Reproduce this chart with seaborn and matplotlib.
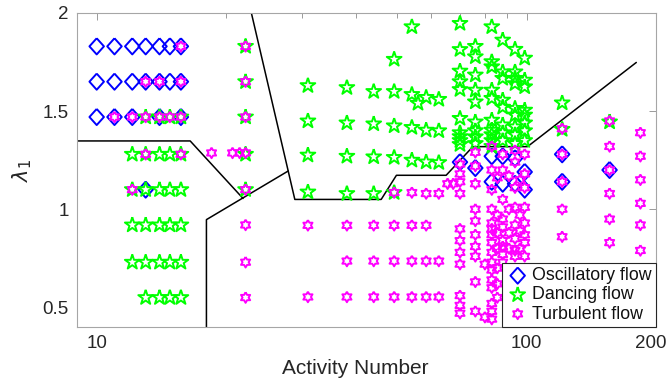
import matplotlib
matplotlib.use("Agg")
import numpy as np
import matplotlib.pyplot as plt
from matplotlib.ticker import FixedLocator, NullFormatter, FixedFormatter
from matplotlib.transforms import ScaledTranslation
import seaborn as sns

# ---------------- data ----------------
# Oscillatory flow (blue diamonds)
osc_x = [10, 11, 12.1, 13, 14, 14.8, 15.7,
         10, 11, 12.1, 13, 14, 14.8, 15.7,
         10, 11, 12.1, 14, 15.7,
         13,
         70, 76, 83, 88, 94, 99,
         83, 88, 94, 99,
         121, 121, 156]
osc_y = [1.83, 1.83, 1.83, 1.83, 1.83, 1.83, 1.83,
         1.65, 1.65, 1.65, 1.65, 1.65, 1.65, 1.65,
         1.47, 1.47, 1.47, 1.47, 1.47,
         1.10,
         1.24, 1.21, 1.27, 1.27, 1.26, 1.19,
         1.14, 1.13, 1.13, 1.10,
         1.28, 1.14, 1.20]

# Dancing flow (green pentagrams)
dance_x = [13, 14, 14.8, 15.7,
           12.1, 13, 14, 14.8, 15.7,
           12.1, 13, 14, 14.8, 15.7,
           12.1, 13, 14, 14.8, 15.7,
           12.1, 13, 14, 14.8, 15.7,
           13, 14, 14.8, 15.7,
           22.2, 22.2, 22.2, 22.2, 22.2,
           31, 38.2, 44.1, 49.2, 54.1, 55.9, 58.4, 62.5,
           31, 38.2, 44.1, 49.2, 54.1, 58.4, 62.5,
           31, 38.2, 44.1, 49.2, 54.1, 58.4, 62.5,
           31, 38.2, 44.1, 49.2,
           54.1, 49.2,
           70, 70, 70, 70, 70, 70, 70, 70, 70, 70,
           76, 76, 76, 76, 76, 76, 76, 76, 76,
           83, 83, 83, 83, 83, 83, 83, 83, 83, 83,
           88, 88, 88, 88, 88, 88, 88, 88,
           94, 94, 94, 94, 94, 94, 94, 94, 94,
           99, 99, 99, 99, 99, 99, 99, 99,
           121, 121, 156]
dance_y = [1.47, 1.47, 1.47, 1.47,
           1.28, 1.28, 1.28, 1.28, 1.28,
           1.10, 1.10, 1.10, 1.10, 1.10,
           0.92, 0.92, 0.92, 0.92, 0.92,
           0.73, 0.73, 0.73, 0.73, 0.73,
           0.55, 0.55, 0.55, 0.55,
           1.83, 1.65, 1.47, 1.28, 1.10,
           1.63, 1.62, 1.60, 1.60, 1.585, 1.54, 1.57, 1.56,
           1.45, 1.44, 1.435, 1.425, 1.417, 1.403, 1.40,
           1.276, 1.27, 1.267, 1.264, 1.25, 1.241, 1.238,
           1.088, 1.08, 1.08, 1.085,
           1.93, 1.764,
           1.947, 1.814, 1.704, 1.65, 1.61, 1.463, 1.39, 1.37, 1.35, 1.33,
           1.83, 1.777, 1.684, 1.607, 1.547, 1.445, 1.40, 1.369, 1.335,
           1.93, 1.752, 1.726, 1.607, 1.565, 1.454, 1.403, 1.38, 1.35, 1.32,
           1.862, 1.70, 1.667, 1.556, 1.52, 1.43, 1.39, 1.35,
           1.815, 1.70, 1.667, 1.64, 1.514, 1.48, 1.42, 1.38, 1.335,
           1.77, 1.658, 1.624, 1.505, 1.48, 1.44, 1.40, 1.35,
           1.542, 1.407, 1.445]

# Turbulent flow (magenta hexagrams)
turb_x = [15.7,
          13, 14, 15.7,
          11, 12.1, 13, 14, 14.8, 15.7,
          13, 15.7,
          12.1,
          18.5, 20.7, 21.5, 22.2,
          22.2, 22.2, 22.2, 22.2, 22.2, 22.2, 22.2,
          49.2, 54.1, 58.4, 62.5,
          31, 38.2, 44.1, 49.2, 54.1, 58.4,
          38.2, 44.1, 49.2, 54.1, 58.4, 62.5,
          31, 38.2, 44.1, 49.2, 54.1, 58.4, 62.5,
          65.5, 67.5,
          70, 70, 70, 70, 70, 70, 70, 70, 70, 70, 70,
          76, 76, 76, 76, 76, 76, 76, 76, 76, 76,
          80, 80,
          83, 83, 83, 83, 83, 83, 83, 83, 83, 83, 83, 83, 83, 83, 83, 83,
          85.5, 85.5, 85.5, 85.5, 85.5, 85.5, 85.5,
          88, 88, 88, 88, 88, 88, 88, 88, 88,
          91, 91, 91, 91,
          94, 94, 94, 94, 94, 94, 94, 94,
          96.5, 96.5, 96.5, 96.5,
          99, 99, 99, 99, 99, 99, 99, 99,
          121, 121, 121, 121, 121,
          156, 156, 156, 156, 156, 156,
          184, 184, 184, 184, 184, 184]
turb_y = [1.83,
          1.65, 1.65, 1.65,
          1.47, 1.47, 1.47, 1.47, 1.47, 1.47,
          1.28, 1.28,
          1.10,
          1.287, 1.287, 1.287, 1.287,
          1.83, 1.65, 1.47, 1.10, 0.92, 0.73, 0.55,
          1.085, 1.085, 1.08, 1.08,
          0.918, 0.918, 0.918, 0.918, 0.918, 0.918,
          0.736, 0.736, 0.736, 0.736, 0.736, 0.736,
          0.553, 0.553, 0.553, 0.553, 0.553, 0.553, 0.553,
          1.13, 1.13,
          1.23, 1.18, 1.14, 1.08, 0.90, 0.84, 0.78, 0.72, 0.56, 0.51, 0.47,
          1.29, 1.22, 1.13, 1.00, 0.94, 0.87, 0.81, 0.76, 0.63, 0.48,
          0.72, 0.45,
          1.32, 1.20, 1.10, 1.00, 0.93, 0.90, 0.87, 0.83, 0.78, 0.73, 0.69, 0.64, 0.60, 0.52, 0.48, 0.44,
          1.16, 0.97, 0.88, 0.80, 0.70, 0.62, 0.55,
          1.28, 1.20, 1.05, 0.95, 0.91, 0.84, 0.81, 0.77, 0.73,
          1.17, 1.00, 0.88, 0.80,
          1.30, 1.24, 1.11, 1.01, 0.92, 0.85, 0.79, 0.76,
          1.15, 0.97, 0.89, 0.80,
          1.28, 1.18, 1.11, 1.01, 0.93, 0.87, 0.83, 0.76,
          1.41, 1.28, 1.14, 1.00, 0.86,
          1.45, 1.32, 1.20, 1.08, 0.95, 0.83,
          1.39, 1.27, 1.15, 1.03, 0.92, 0.79]

# Phase boundaries (black polylines)
bound_a_x = [8.9, 16.5, 21.9]
bound_a_y = [1.348, 1.348, 1.055]
bound_b_x = [18.0, 18.0, 27.9]
bound_b_y = [0.35, 0.947, 1.195]
bound_c_x = [22.9, 28.9, 45.9, 49.8, 65.0, 75.0, 100.5, 180.0]
bound_c_y = [2.0, 1.05, 1.05, 1.173, 1.173, 1.319, 1.319, 1.748]

labels = ["Oscillatory flow", "Dancing flow", "Turbulent flow"]
xtick_vals = [10, 100, 200]
xtick_labels = ["10", "100", "200"]
ytick_vals = [0.5, 1, 1.5, 2]
ytick_labels = ["0.5", "1", "1.5", "2"]

# ---------------- markers ----------------
def star_verts(n, r_in):
    ang = np.pi / 2 + np.arange(2 * n) * np.pi / n
    r = np.where(np.arange(2 * n) % 2 == 0, 1.0, r_in)
    v = np.column_stack([r * np.cos(ang), r * np.sin(ang)])
    return np.vstack([v, v[:1]])

diamond = np.array([[0, 1], [0.9, 0], [0, -1], [-0.9, 0], [0, 1]])
pentagram = star_verts(5, 0.382)
hexagram = star_verts(6, 0.577)

# ---------------- style ----------------
sns.set_theme(style="white")
plt.rcParams["font.family"] = ["Liberation Sans", "DejaVu Sans"]
plt.rcParams["mathtext.fontset"] = "dejavusans"
text_col = "#262626"

fig = plt.figure(figsize=(6.68, 3.82), dpi=100)
ax = fig.add_axes([0.1153, 0.144, 0.8667, 0.822])
ax.set_xscale("log")

lw = 1.4
sns.scatterplot(x=osc_x, y=osc_y, marker=diamond, s=135, facecolor="none",
                edgecolor="#0000ff", linewidth=lw, ax=ax, label=labels[0], zorder=3)
sns.scatterplot(x=dance_x, y=dance_y, marker=pentagram, s=125, facecolor="none",
                edgecolor="#00ff00", linewidth=lw, ax=ax, label=labels[1], zorder=3)
sns.scatterplot(x=turb_x, y=turb_y, marker=hexagram, s=58, facecolor="none",
                edgecolor="#ff00ff", linewidth=lw, ax=ax, label=labels[2], zorder=3)

for bx, by in [(bound_a_x, bound_a_y), (bound_b_x, bound_b_y), (bound_c_x, bound_c_y)]:
    sns.lineplot(x=bx, y=by, sort=False, estimator=None, color="black",
                 linewidth=1.1, ax=ax, zorder=2, legend=False)

ax.set_xlim(9, 200)
ax.set_ylim(0.4, 2)
ax.xaxis.set_major_locator(FixedLocator(xtick_vals))
ax.xaxis.set_major_formatter(FixedFormatter(xtick_labels))
ax.xaxis.set_minor_locator(FixedLocator([20, 30, 40, 50, 60, 70, 80, 90]))
ax.xaxis.set_minor_formatter(NullFormatter())
ax.yaxis.set_major_locator(FixedLocator(ytick_vals))
ax.yaxis.set_major_formatter(FixedFormatter(ytick_labels))

ax.tick_params(which="both", direction="in", top=True, right=True,
               colors="#9a9a9a", labelcolor=text_col, labelsize=13.5, width=0.7)
ax.tick_params(which="major", length=5, pad=6)
ax.tick_params(which="minor", length=3.5)
for sp in ax.spines.values():
    sp.set_color("#a6a6a6")
    sp.set_linewidth(0.8)

# keep the last x tick label inside the figure
last = ax.get_xticklabels()[-1]
last.set_transform(last.get_transform() + ScaledTranslation(-5 / 100, 0, fig.dpi_scale_trans))

ax.set_xlabel("Activity Number", fontsize=15, color=text_col)
ax.xaxis.set_label_coords(0.48, -0.103)
ax.set_ylabel(r"$\lambda_1$", fontsize=15, color=text_col, labelpad=6)

leg = ax.legend(loc="lower right", borderaxespad=0, fontsize=12.8, frameon=True,
                fancybox=False, edgecolor="#262626", framealpha=1,
                handlelength=1.3, handletextpad=0.15, borderpad=0.25,
                labelspacing=0.12, scatterpoints=1)
leg.get_frame().set_linewidth(0.8)
for t in leg.get_texts():
    t.set_color("#111111")
leg.set_zorder(10)

fig.savefig("out.png", dpi=100)
